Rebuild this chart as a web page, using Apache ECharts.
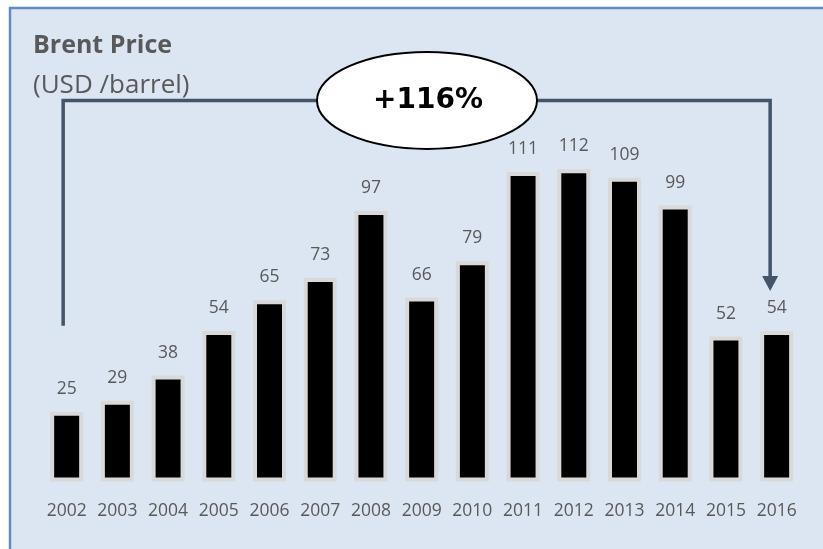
<!DOCTYPE html>
<html>
<head>
<meta charset="utf-8">
<script src="https://cdn.jsdelivr.net/npm/echarts@6/dist/echarts.min.js"></script>
<style>
html,body{margin:0;padding:0;background:#ffffff;}
#chart{width:823px;height:549px;}
</style>
</head>
<body>
<div id="chart"></div>
<script>
const years = ['2002','2003','2004','2005','2006','2007','2008','2009','2010','2011','2012','2013','2014','2015','2016'];
const prices = [25, 29, 38, 54, 65, 73, 97, 66, 79, 111, 112, 109, 99, 52, 54];
const titleText = 'Brent Price';
const unitText = '(USD /barrel)';
const changeText = '+116%';

const FONT = '"Open Sans", "Noto Sans", sans-serif';
const GRAY = '#595959';
const LINE = '#44546A';

const chart = echarts.init(document.getElementById('chart'), null, {renderer: 'canvas'});

chart.setOption({
  animation: false,
  backgroundColor: '#ffffff',
  grid: {left: 41.3, right: 21, top: 147, bottom: 67.5, containLabel: false},
  xAxis: {
    type: 'category',
    data: years,
    axisLine: {show: false},
    axisTick: {show: false},
    axisLabel: {color: GRAY, fontFamily: FONT, fontSize: 17.5, margin: 21, interval: 0}
  },
  yAxis: {type: 'value', min: 0, max: 120, show: false, splitLine: {show: false}},
  series: [{
    type: 'bar',
    data: prices,
    barWidth: 33,
    itemStyle: {color: '#000000', borderColor: '#D9D9D9', borderWidth: 4},
    label: {show: true, position: 'top', distance: 14, color: GRAY, fontFamily: FONT, fontSize: 17.5},
    z: 3
  }]
});

const pFirst = chart.convertToPixel({xAxisIndex: 0, yAxisIndex: 0}, [0, prices[0]]);
const pLast = chart.convertToPixel({xAxisIndex: 0, yAxisIndex: 0}, [prices.length - 1, prices[prices.length - 1]]);
const xL = pFirst[0] - 3.5;
const xR = pLast[0] - 6.5;
const yTop = 100.5;
const yLeftEnd = pFirst[1] - 86;
const yArrowTip = pLast[1] - 40;

chart.setOption({
  graphic: [
    {type: 'rect', z: -10, silent: true,
     shape: {x: 10, y: 8, width: 830, height: 560},
     style: {fill: '#DCE6F2', stroke: '#5F8AC6', lineWidth: 2.5}},
    {type: 'text', z: 5, x: 33, y: 46,
     style: {text: titleText, fill: GRAY, font: 'bold 25px ' + FONT, verticalAlign: 'middle'}},
    {type: 'text', z: 5, x: 33, y: 85.5,
     style: {text: unitText, fill: GRAY, font: '26px ' + FONT, verticalAlign: 'middle'}},
    {type: 'polyline', z: 5,
     shape: {points: [[xL, yLeftEnd], [xL, yTop], [xR, yTop], [xR, yArrowTip - 14]]},
     style: {stroke: LINE, lineWidth: 3.5, fill: null, lineJoin: 'miter'}},
    {type: 'polygon', z: 5,
     shape: {points: [[xR - 8, yArrowTip - 15], [xR + 8, yArrowTip - 15], [xR, yArrowTip]]},
     style: {fill: LINE, stroke: null}},
    {type: 'ellipse', z: 6,
     shape: {cx: 427, cy: 100.4, rx: 110, ry: 48.5},
     style: {fill: '#ffffff', stroke: '#000000', lineWidth: 2}},
    {type: 'text', z: 7, x: 428, y: 101,
     style: {text: changeText, fill: '#000000', font: 'bold 28px "DejaVu Sans", sans-serif', align: 'center', verticalAlign: 'middle'}}
  ]
});
</script>
</body>
</html>
